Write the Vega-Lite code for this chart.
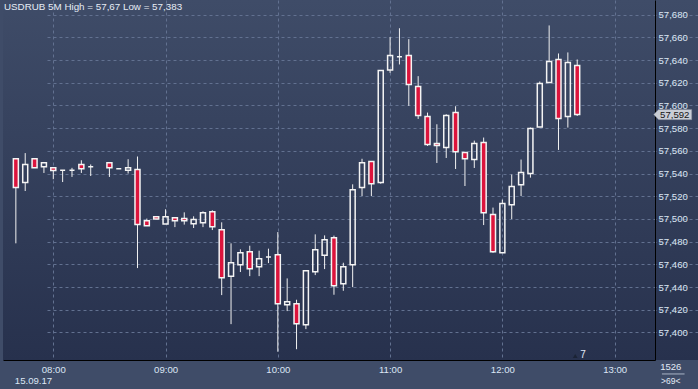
{
  "$schema": "https://vega.github.io/schema/vega-lite/v6.json",
  "width": 695,
  "height": 360,
  "autosize": {"type": "none"},
  "padding": {"left": 3, "top": 0, "right": 0, "bottom": 29},
  "background": "#3f4c68",
  "view": {"stroke": null, "fill": {"gradient": "linear", "x1": 0, "y1": 0, "x2": 0, "y2": 1, "stops": [{"offset": 0, "color": "#3f4c68"}, {"offset": 1, "color": "#27314d"}]}},
  "title": {"text": "USDRUB 5M High = 57,67 Low = 57,383", "anchor": "start", "frame": "group", "orient": "top", "offset": -12, "dx": 1, "fontSize": 9.8, "fontWeight": "normal", "color": "#e6ecf5", "font": "Liberation Sans"},
  "config": {
    "font": "Liberation Sans",
    "axis": {"labelFont": "Liberation Sans", "labelFontSize": 9.6, "labelColor": "#dce6f4"},
    "text": {"font": "Liberation Sans"}
  },
  "layer": [
    {
      "data": {"values": [
        {"t": "2017-09-15T07:40", "open": 57.553, "high": 57.553, "low": 57.4785, "close": 57.5276},
        {"t": "2017-09-15T07:45", "open": 57.532, "high": 57.558, "low": 57.5246, "close": 57.548},
        {"t": "2017-09-15T07:50", "open": 57.553, "high": 57.553, "low": 57.545, "close": 57.545},
        {"t": "2017-09-15T07:55", "open": 57.546, "high": 57.5496, "low": 57.5405, "close": 57.5496},
        {"t": "2017-09-15T08:00", "open": 57.545, "high": 57.545, "low": 57.535, "close": 57.5426},
        {"t": "2017-09-15T08:05", "open": 57.543, "high": 57.543, "low": 57.5325, "close": 57.543},
        {"t": "2017-09-15T08:10", "open": 57.5428, "high": 57.545, "low": 57.537, "close": 57.5428},
        {"t": "2017-09-15T08:15", "open": 57.548, "high": 57.5517, "low": 57.5405, "close": 57.5443},
        {"t": "2017-09-15T08:20", "open": 57.546, "high": 57.548, "low": 57.5378, "close": 57.546},
        {"t": "2017-09-15T08:30", "open": 57.5496, "high": 57.5496, "low": 57.537, "close": 57.545},
        {"t": "2017-09-15T08:35", "open": 57.5443, "high": 57.5443, "low": 57.5443, "close": 57.5443},
        {"t": "2017-09-15T08:40", "open": 57.543, "high": 57.5526, "low": 57.54, "close": 57.545},
        {"t": "2017-09-15T08:45", "open": 57.5435, "high": 57.555, "low": 57.4567, "close": 57.495},
        {"t": "2017-09-15T08:50", "open": 57.4985, "high": 57.5003, "low": 57.494, "close": 57.494},
        {"t": "2017-09-15T08:55", "open": 57.502, "high": 57.502, "low": 57.4999, "close": 57.4999},
        {"t": "2017-09-15T09:00", "open": 57.4955, "high": 57.5085, "low": 57.4955, "close": 57.502},
        {"t": "2017-09-15T09:05", "open": 57.5011, "high": 57.5011, "low": 57.4928, "close": 57.4985},
        {"t": "2017-09-15T09:10", "open": 57.5003, "high": 57.5058, "low": 57.495, "close": 57.4985},
        {"t": "2017-09-15T09:15", "open": 57.4958, "high": 57.5023, "low": 57.492, "close": 57.4994},
        {"t": "2017-09-15T09:20", "open": 57.4967, "high": 57.5067, "low": 57.4928, "close": 57.5055},
        {"t": "2017-09-15T09:25", "open": 57.5064, "high": 57.5076, "low": 57.4902, "close": 57.4932},
        {"t": "2017-09-15T09:30", "open": 57.4905, "high": 57.497, "low": 57.4329, "close": 57.4482},
        {"t": "2017-09-15T09:35", "open": 57.4496, "high": 57.4785, "low": 57.4073, "close": 57.4614},
        {"t": "2017-09-15T09:40", "open": 57.4597, "high": 57.4732, "low": 57.4532, "close": 57.4703},
        {"t": "2017-09-15T09:45", "open": 57.4711, "high": 57.4764, "low": 57.4496, "close": 57.4561},
        {"t": "2017-09-15T09:50", "open": 57.4579, "high": 57.472, "low": 57.4496, "close": 57.465},
        {"t": "2017-09-15T09:55", "open": 57.4664, "high": 57.4738, "low": 57.4611, "close": 57.4664},
        {"t": "2017-09-15T10:00", "open": 57.4685, "high": 57.4884, "low": 57.383, "close": 57.4253},
        {"t": "2017-09-15T10:05", "open": 57.4244, "high": 57.4476, "low": 57.4188, "close": 57.427},
        {"t": "2017-09-15T10:10", "open": 57.4253, "high": 57.4288, "low": 57.3852, "close": 57.4076},
        {"t": "2017-09-15T10:15", "open": 57.4068, "high": 57.4544, "low": 57.4029, "close": 57.4544},
        {"t": "2017-09-15T10:20", "open": 57.4535, "high": 57.4864, "low": 57.4505, "close": 57.4729},
        {"t": "2017-09-15T10:25", "open": 57.468, "high": 57.4855, "low": 57.4558, "close": 57.4817},
        {"t": "2017-09-15T10:30", "open": 57.4835, "high": 57.4853, "low": 57.4332, "close": 57.4412},
        {"t": "2017-09-15T10:35", "open": 57.4429, "high": 57.4614, "low": 57.4367, "close": 57.4579},
        {"t": "2017-09-15T10:40", "open": 57.4597, "high": 57.5305, "low": 57.4399, "close": 57.5258},
        {"t": "2017-09-15T10:45", "open": 57.5276, "high": 57.553, "low": 57.5202, "close": 57.5496},
        {"t": "2017-09-15T10:50", "open": 57.5505, "high": 57.5505, "low": 57.5202, "close": 57.5311},
        {"t": "2017-09-15T10:55", "open": 57.532, "high": 57.6308, "low": 57.531, "close": 57.6308},
        {"t": "2017-09-15T11:00", "open": 57.6313, "high": 57.6602, "low": 57.6287, "close": 57.644},
        {"t": "2017-09-15T11:05", "open": 57.6428, "high": 57.668, "low": 57.6361, "close": 57.6428},
        {"t": "2017-09-15T11:10", "open": 57.644, "high": 57.6584, "low": 57.5996, "close": 57.6184},
        {"t": "2017-09-15T11:15", "open": 57.6167, "high": 57.6258, "low": 57.5881, "close": 57.5911},
        {"t": "2017-09-15T11:20", "open": 57.5902, "high": 57.5937, "low": 57.5643, "close": 57.5655},
        {"t": "2017-09-15T11:25", "open": 57.5664, "high": 57.5834, "low": 57.5493, "close": 57.5646},
        {"t": "2017-09-15T11:30", "open": 57.5629, "high": 57.5922, "low": 57.5537, "close": 57.5911},
        {"t": "2017-09-15T11:35", "open": 57.5937, "high": 57.5993, "low": 57.544, "close": 57.5593},
        {"t": "2017-09-15T11:40", "open": 57.5585, "high": 57.5585, "low": 57.529, "close": 57.553},
        {"t": "2017-09-15T11:45", "open": 57.5523, "high": 57.569, "low": 57.5449, "close": 57.5664},
        {"t": "2017-09-15T11:50", "open": 57.5673, "high": 57.5717, "low": 57.4946, "close": 57.5055},
        {"t": "2017-09-15T11:55", "open": 57.5038, "high": 57.51, "low": 57.4702, "close": 57.4711},
        {"t": "2017-09-15T12:00", "open": 57.4702, "high": 57.517, "low": 57.4702, "close": 57.5135},
        {"t": "2017-09-15T12:05", "open": 57.5126, "high": 57.5391, "low": 57.4999, "close": 57.5285},
        {"t": "2017-09-15T12:10", "open": 57.5302, "high": 57.5523, "low": 57.5202, "close": 57.5408},
        {"t": "2017-09-15T12:15", "open": 57.54, "high": 57.5805, "low": 57.5364, "close": 57.5796},
        {"t": "2017-09-15T12:20", "open": 57.581, "high": 57.6211, "low": 57.581, "close": 57.6193},
        {"t": "2017-09-15T12:25", "open": 57.6202, "high": 57.6705, "low": 57.6202, "close": 57.6387},
        {"t": "2017-09-15T12:30", "open": 57.6405, "high": 57.6458, "low": 57.5608, "close": 57.5884},
        {"t": "2017-09-15T12:35", "open": 57.5902, "high": 57.6467, "low": 57.5805, "close": 57.6378},
        {"t": "2017-09-15T12:40", "open": 57.6352, "high": 57.6405, "low": 57.5907, "close": 57.592}
      ]},
      "transform": [
        {"calculate": "max(datum.open, datum.close)", "as": "top"},
        {"calculate": "min(datum.open, datum.close)", "as": "bot"}
      ],
      "layer": [
        {
          "mark": {"type": "rule", "color": "#f2f2f2", "strokeWidth": 1},
          "encoding": {
            "x": {"field": "t", "type": "temporal",
              "scale": {"domain": [{"year": 2017, "month": 9, "date": 15, "hours": 7, "minutes": 35, "seconds": 48}, {"year": 2017, "month": 9, "date": 15, "hours": 13, "minutes": 18, "seconds": 54}], "range": [0, 652]},
              "axis": {
                "values": [
                  {"year": 2017, "month": 9, "date": 15, "hours": 8},
                  {"year": 2017, "month": 9, "date": 15, "hours": 9},
                  {"year": 2017, "month": 9, "date": 15, "hours": 10},
                  {"year": 2017, "month": 9, "date": 15, "hours": 11},
                  {"year": 2017, "month": 9, "date": 15, "hours": 12},
                  {"year": 2017, "month": 9, "date": 15, "hours": 13}
                ],
                "tickCount": 20,
                "format": "%H:%M", "ticks": false, "labelPadding": 4, "labelFlush": false, "labelOverlap": false,
                "domainColor": "#000000", "domainWidth": 1,
                "grid": true, "gridColor": "#627190", "gridDash": [3, 3],
                "title": "15.09.17", "titleX": 30, "titleY": 20, "titleAlign": "center", "titleBaseline": "middle",
                "titleFontSize": 9.6, "titleFontWeight": "normal", "titleColor": "#dce6f4", "titleFont": "Liberation Sans"
              }
            },
            "y": {"field": "high", "type": "quantitative",
              "scale": {"domain": [57.3757, 57.6929], "nice": false, "zero": false},
              "axis": {
                "orient": "right", "offset": -43,
                "values": [57.40, 57.42, 57.44, 57.46, 57.48, 57.50, 57.52, 57.54, 57.56, 57.58, 57.60, 57.62, 57.64, 57.66, 57.68],
                "tickCount": 30,
                "labelExpr": "replace(format(datum.value, '.3f'), '.', ',')",
                "labelOverlap": false,
                "ticks": false, "labelPadding": 3, "labelAlign": "left", "labelBaseline": "middle",
                "domainColor": "#000000", "domainWidth": 1,
                "grid": true, "gridColor": "#627190", "gridDash": [3, 3],
                "title": null
              }
            },
            "y2": {"field": "top"}
          }
        },
        {
          "mark": {"type": "rule", "color": "#f2f2f2", "strokeWidth": 1},
          "encoding": {
            "x": {"field": "t", "type": "temporal", "scale": {"domain": [{"year": 2017, "month": 9, "date": 15, "hours": 7, "minutes": 35, "seconds": 48}, {"year": 2017, "month": 9, "date": 15, "hours": 13, "minutes": 18, "seconds": 54}], "range": [0, 652]}},
            "y": {"field": "bot", "type": "quantitative", "scale": {"domain": [57.3757, 57.6929], "nice": false, "zero": false}},
            "y2": {"field": "low"}
          }
        },
        {
          "mark": {"type": "bar", "size": 5, "stroke": "#f4f4f4", "strokeWidth": 1.5},
          "encoding": {
            "x": {"field": "t", "type": "temporal", "scale": {"domain": [{"year": 2017, "month": 9, "date": 15, "hours": 7, "minutes": 35, "seconds": 48}, {"year": 2017, "month": 9, "date": 15, "hours": 13, "minutes": 18, "seconds": 54}], "range": [0, 652]}},
            "y": {"field": "open", "type": "quantitative", "scale": {"domain": [57.3757, 57.6929], "nice": false, "zero": false}},
            "y2": {"field": "close"},
            "fill": {"condition": {"test": "datum.close < datum.open", "value": "#dc143c"}, "value": "transparent"}
          }
        }
      ]
    },
    {
      "data": {"values": [{"t": "2017-09-15T13:31:03", "price": 57.592, "label": "57,592"}]},
      "layer": [
        {
          "mark": {"type": "point", "shape": "M-1,0L-0.74,-0.27L1,-0.27L1,0.27L-0.74,0.27Z", "size": 1444, "filled": true, "color": "#c9cdd5", "fill": "#c9cdd5", "stroke": "#7f8796", "strokeWidth": 0.5, "opacity": 1},
          "encoding": {
            "x": {"field": "t", "type": "temporal", "scale": {"domain": [{"year": 2017, "month": 9, "date": 15, "hours": 7, "minutes": 35, "seconds": 48}, {"year": 2017, "month": 9, "date": 15, "hours": 13, "minutes": 18, "seconds": 54}], "range": [0, 652]}},
            "y": {"field": "price", "type": "quantitative", "scale": {"domain": [57.3757, 57.6929], "nice": false, "zero": false}}
          }
        },
        {
          "mark": {"type": "text", "fontSize": 9.6, "color": "#141414", "dx": 2},
          "encoding": {
            "x": {"field": "t", "type": "temporal", "scale": {"domain": [{"year": 2017, "month": 9, "date": 15, "hours": 7, "minutes": 35, "seconds": 48}, {"year": 2017, "month": 9, "date": 15, "hours": 13, "minutes": 18, "seconds": 54}], "range": [0, 652]}},
            "y": {"field": "price", "type": "quantitative", "scale": {"domain": [57.3757, 57.6929], "nice": false, "zero": false}},
            "text": {"field": "label"}
          }
        }
      ]
    },
    {
      "data": {"values": [{"t": "2017-09-15T12:38:56", "v": 57.3793}]},
      "mark": {"type": "point", "shape": "triangle-up", "size": 22, "filled": true, "color": "#1b2335", "opacity": 1},
      "encoding": {
        "x": {"field": "t", "type": "temporal", "scale": {"domain": [{"year": 2017, "month": 9, "date": 15, "hours": 7, "minutes": 35, "seconds": 48}, {"year": 2017, "month": 9, "date": 15, "hours": 13, "minutes": 18, "seconds": 54}], "range": [0, 652]}},
        "y": {"field": "v", "type": "quantitative", "scale": {"domain": [57.3757, 57.6929], "nice": false, "zero": false}}
      }
    },
    {
      "data": {"values": [
        {"t": "2017-09-15T12:43:10", "v": 57.3801, "label": "7", "size": 10},
        {"t": "2017-09-15T13:30:00", "v": 57.3695, "label": "1526", "size": 9.5},
        {"t": "2017-09-15T13:30:00", "v": 57.3572, "label": ">69<", "size": 8.5}
      ]},
      "mark": {"type": "text", "color": "#e2eaf6"},
      "encoding": {
        "x": {"field": "t", "type": "temporal", "scale": {"domain": [{"year": 2017, "month": 9, "date": 15, "hours": 7, "minutes": 35, "seconds": 48}, {"year": 2017, "month": 9, "date": 15, "hours": 13, "minutes": 18, "seconds": 54}], "range": [0, 652]}},
        "y": {"field": "v", "type": "quantitative", "scale": {"domain": [57.3757, 57.6929], "nice": false, "zero": false}},
        "text": {"field": "label"},
        "size": {"field": "size", "type": "quantitative", "scale": null}
      }
    },
    {
      "data": {"values": [{"t1": "2017-09-15T13:25:16", "t2": "2017-09-15T13:37:22", "v": 57.3634}]},
      "mark": {"type": "rule", "color": "#aab4c6", "strokeWidth": 1},
      "encoding": {
        "x": {"field": "t1", "type": "temporal", "scale": {"domain": [{"year": 2017, "month": 9, "date": 15, "hours": 7, "minutes": 35, "seconds": 48}, {"year": 2017, "month": 9, "date": 15, "hours": 13, "minutes": 18, "seconds": 54}], "range": [0, 652]}},
        "x2": {"field": "t2"},
        "y": {"field": "v", "type": "quantitative", "scale": {"domain": [57.3757, 57.6929], "nice": false, "zero": false}}
      }
    }
  ]
}
